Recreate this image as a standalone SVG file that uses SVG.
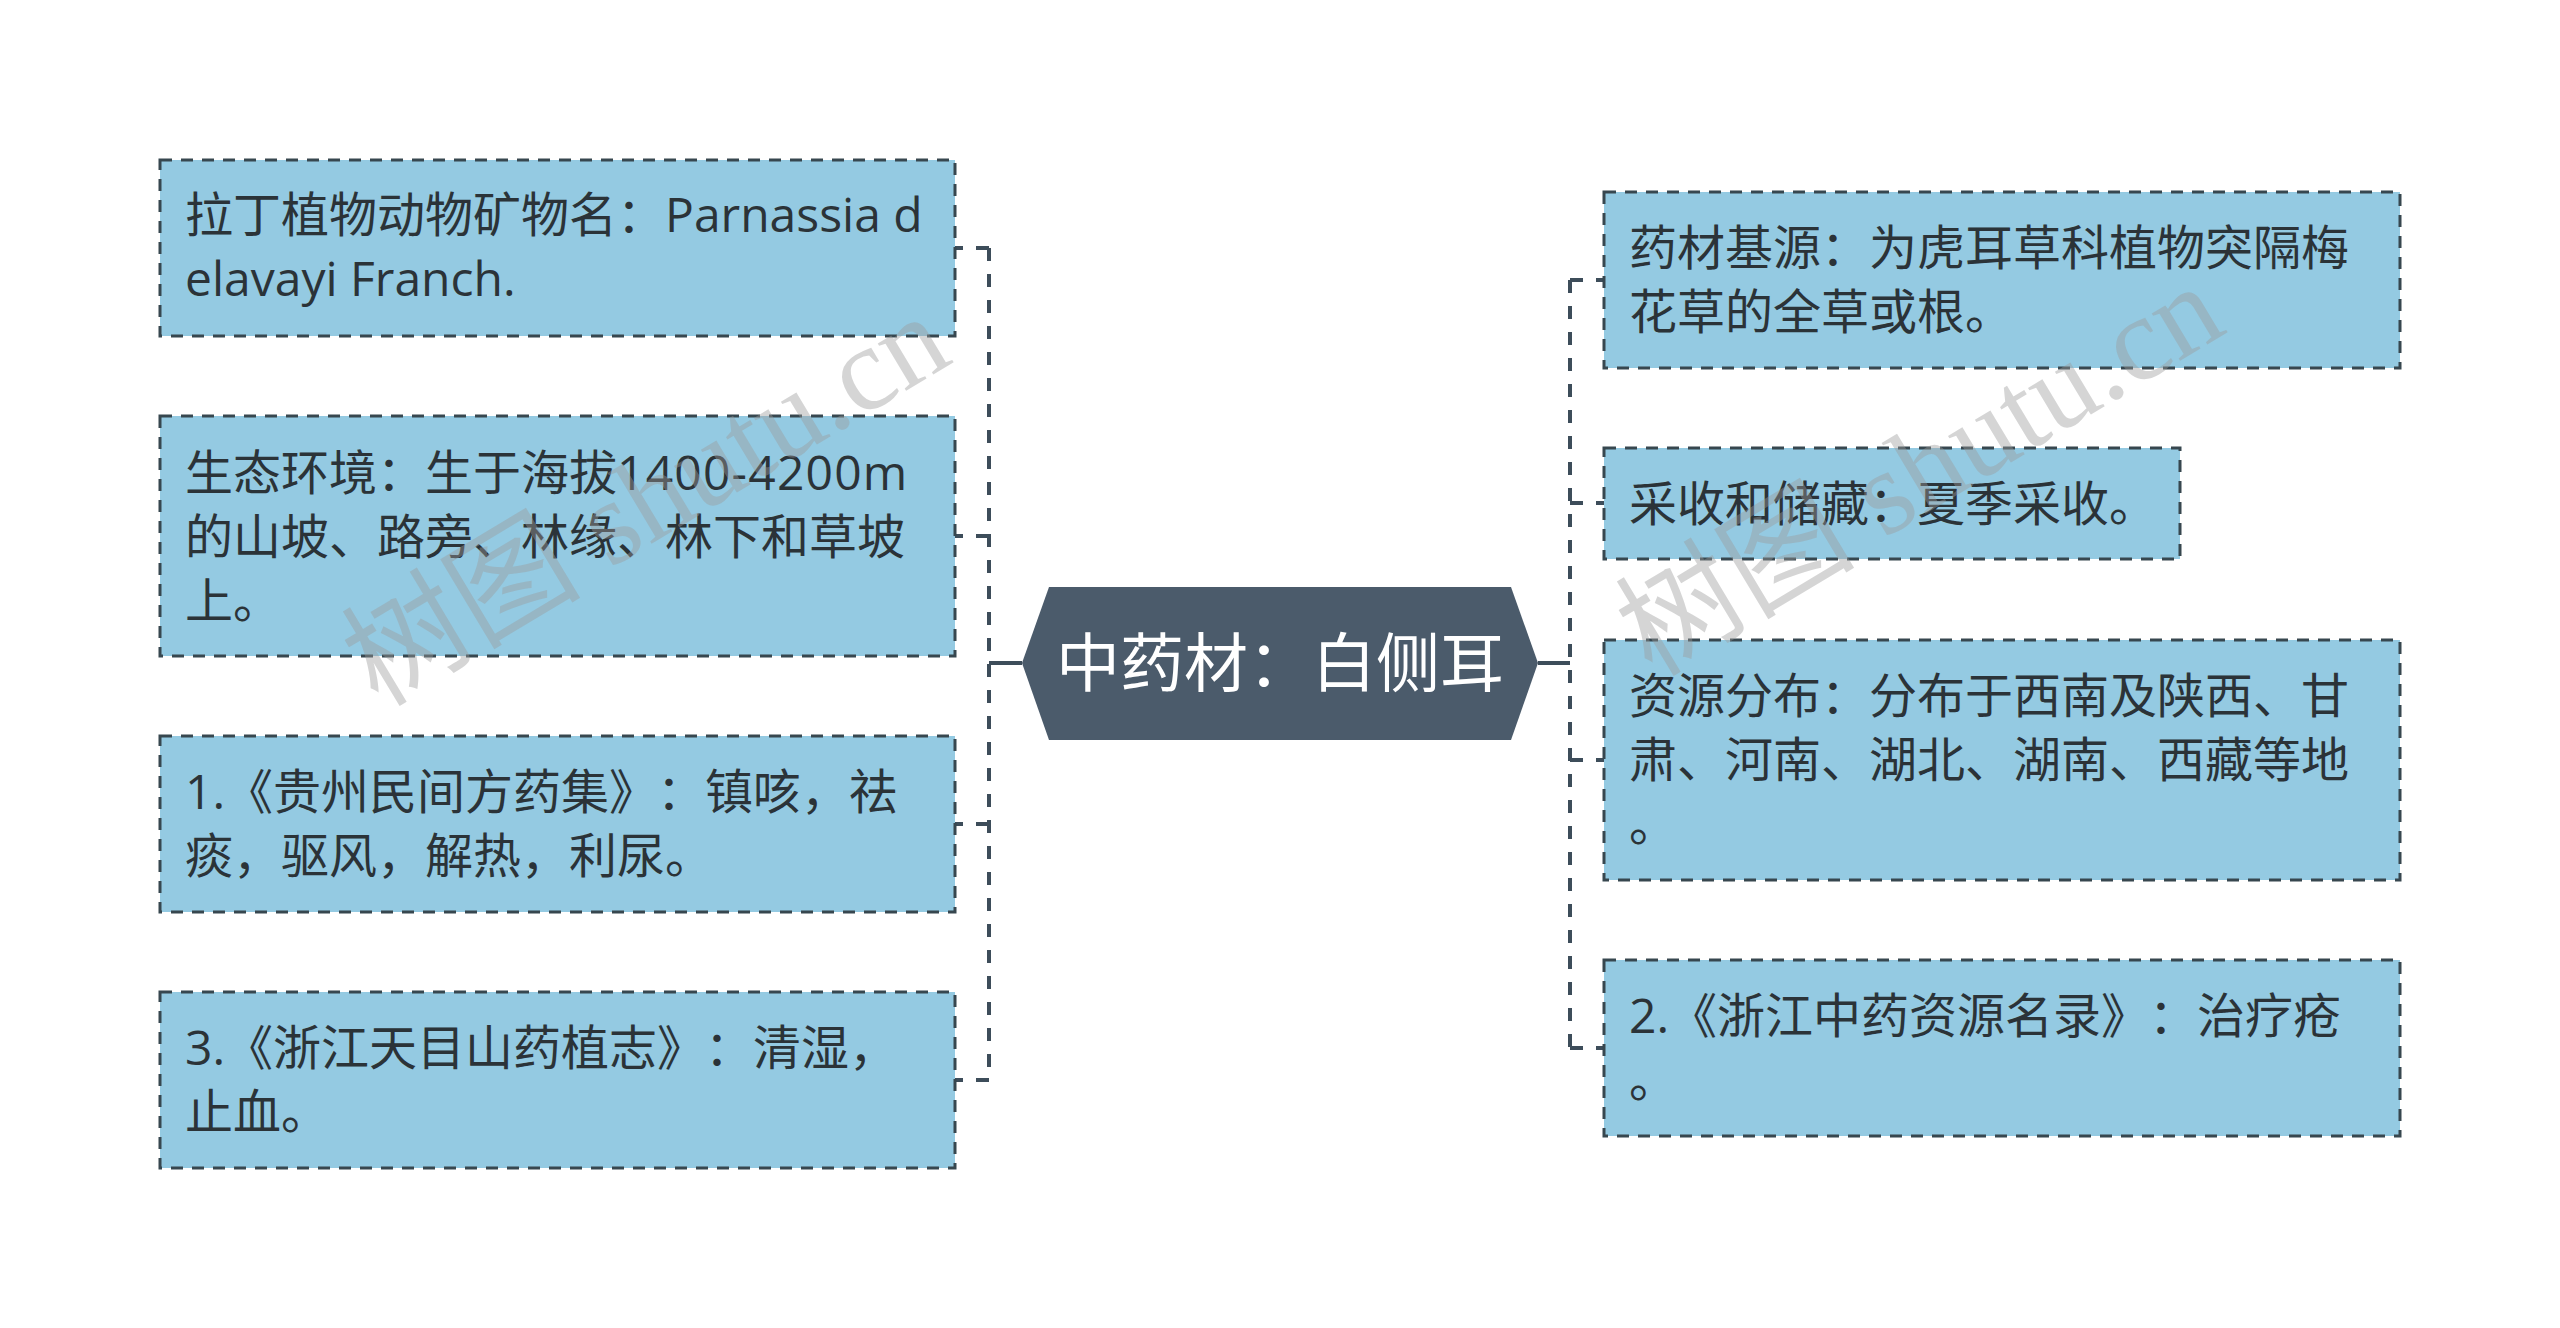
<svg xmlns="http://www.w3.org/2000/svg" width="2560" height="1328" viewBox="0 0 2560 1328">
<style>
.box{fill:#94cae2;stroke:#37474f;stroke-width:3;stroke-dasharray:12 9;}
.t{font-family:"Open Sans","Noto Sans CJK SC",sans-serif;font-size:48px;fill:#2b3338;text-spacing-trim:space-all;font-feature-settings:"palt" 0,"halt" 0;}
.ct{font-family:"Open Sans","Noto Sans CJK SC",sans-serif;font-size:64px;fill:#ffffff;text-anchor:middle;text-spacing-trim:space-all;}
.c{fill:none;stroke:#3d4d5a;stroke-width:4;stroke-dasharray:13 13;}
.cs{fill:none;stroke:#3d4d5a;stroke-width:4;}
.wm{font-family:"Liberation Serif","Noto Sans CJK SC",serif;font-size:120px;fill:#9a9a9a;fill-opacity:0.42;}
</style>
<rect width="2560" height="1328" fill="#ffffff"/>
<g id="connectors">
<path class="cs" d="M1022 663 H989"/>
<path class="c" d="M989 248 V1080"/>
<path class="c" d="M989 248 H955"/>
<path class="c" d="M989 536 H955"/>
<path class="c" d="M989 824 H955"/>
<path class="c" d="M989 1080 H955"/>
<path class="cs" d="M1538 663 H1570"/>
<path class="c" d="M1570 280 V1048"/>
<path class="c" d="M1570 280 H1604"/>
<path class="c" d="M1570 503 H1604"/>
<path class="c" d="M1570 760 H1604"/>
<path class="c" d="M1570 1048 H1604"/>
</g>
<g id="center">
<polygon points="1022,663 1049,587 1511,587 1538,663 1511,740 1049,740" fill="#4b5b6b"/>
<text class="ct" x="1280" y="686">中药材：白侧耳</text>
</g>
<g id="left1">
<rect class="box" x="160" y="160" width="795" height="176"/>
<text class="t" x="185" y="232">拉丁植物动物矿物名：Parnassia d</text>
<text class="t" x="185" y="296">elavayi Franch.</text>
</g>
<g id="left2">
<rect class="box" x="160" y="416" width="795" height="240"/>
<text class="t" x="185" y="490">生态环境：生于海拔<tspan letter-spacing="1.2">1400-4200m</tspan></text>
<text class="t" x="185" y="554">的山坡、路旁、林缘、林下和草坡</text>
<text class="t" x="185" y="618">上。</text>
</g>
<g id="left3">
<rect class="box" x="160" y="736" width="795" height="176"/>
<text class="t" x="185" y="809">1.《贵州民间方药集》：镇咳，祛</text>
<text class="t" x="185" y="873">痰，驱风，解热，利尿。</text>
</g>
<g id="left4">
<rect class="box" x="160" y="992" width="795" height="176"/>
<text class="t" x="185" y="1065">3.《浙江天目山药植志》：清湿，</text>
<text class="t" x="185" y="1129">止血。</text>
</g>
<g id="right1">
<rect class="box" x="1604" y="192" width="796" height="176"/>
<text class="t" x="1629" y="265">药材基源：为虎耳草科植物突隔梅</text>
<text class="t" x="1629" y="329">花草的全草或根。</text>
</g>
<g id="right2">
<rect class="box" x="1604" y="448" width="576" height="111"/>
<text class="t" x="1629" y="521">采收和储藏：夏季采收。</text>
</g>
<g id="right3">
<rect class="box" x="1604" y="640" width="796" height="240"/>
<text class="t" x="1629" y="713">资源分布：分布于西南及陕西、甘</text>
<text class="t" x="1629" y="777">肃、河南、湖北、湖南、西藏等地</text>
<text class="t" x="1629" y="841">。</text>
</g>
<g id="right4">
<rect class="box" x="1604" y="960" width="796" height="176"/>
<text class="t" x="1629" y="1033">2.《浙江中药资源名录》：治疗疮</text>
<text class="t" x="1629" y="1097">。</text>
</g>
<g id="watermark">
<text class="wm" transform="translate(378,708) rotate(-31)">树图 shutu.cn</text>
<text class="wm" transform="translate(1652,678) rotate(-31)">树图 shutu.cn</text>
</g>
</svg>
